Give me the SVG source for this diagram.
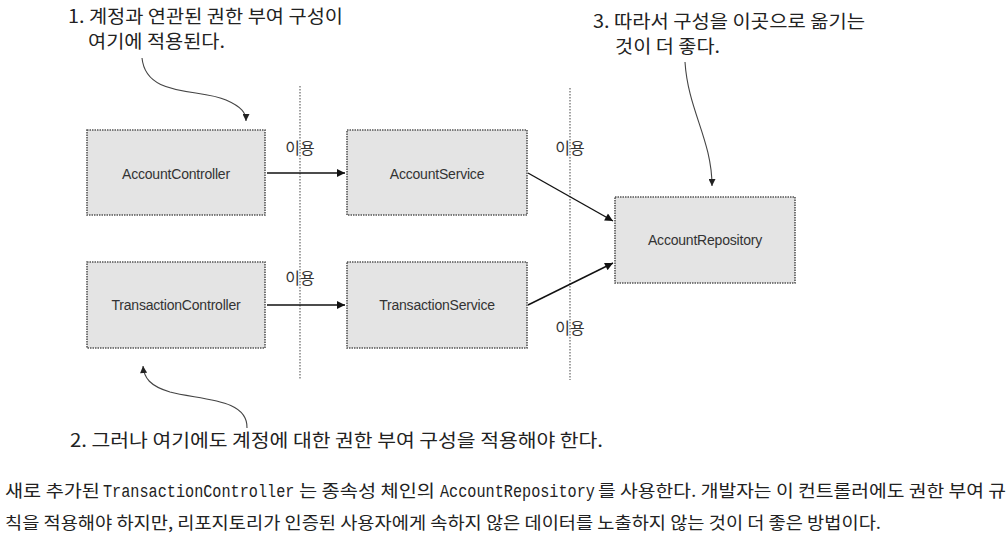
<svg xmlns="http://www.w3.org/2000/svg" width="1007" height="540" viewBox="0 0 1007 540">
<style>
.box{fill:#e4e4e4;stroke:#555;stroke-width:1.6;stroke-dasharray:1.5 1}
.lbl{font-family:"Liberation Sans",Arial,sans-serif;font-size:14px;fill:#333;text-anchor:middle;letter-spacing:-0.2px}
.use{font-family:"Noto Sans CJK KR","Noto Sans",sans-serif;font-size:16px;fill:#333;text-anchor:middle}
.call{font-family:"Noto Sans CJK KR","Noto Sans",sans-serif;font-size:18px;fill:#222}
.para{font-family:"Noto Sans CJK KR","Noto Sans",sans-serif;font-size:17px;fill:#222}
.code{font-family:"Liberation Mono","DejaVu Sans Mono",monospace;font-size:15.2px;fill:#222}
.sep{stroke:#666;stroke-width:1.2;stroke-dasharray:1.5 1.5;fill:none}
.conn{stroke:#111;stroke-width:1.4;fill:none}
.curve{stroke:#444;stroke-width:1.1;fill:none}
</style>
<defs>
<marker id="ah" viewBox="0 0 10 10" refX="10" refY="5" markerUnits="userSpaceOnUse" markerWidth="11" markerHeight="8" orient="auto">
<path d="M0,0 L10,5 L0,10 z" fill="#111"/>
</marker>
<marker id="ahs" viewBox="0 0 10 10" refX="10" refY="5" markerUnits="userSpaceOnUse" markerWidth="8" markerHeight="7" orient="auto">
<path d="M0,0 L10,5 L0,10 z" fill="#222"/>
</marker>
</defs>
<rect width="1007" height="540" fill="#fff"/>

<g id="separators">
<line class="sep" x1="300" y1="86" x2="300" y2="380"/>
<line class="sep" x1="570" y1="88" x2="570" y2="380"/>
</g>

<g id="AccountController"><rect class="box" x="87" y="130" width="178" height="85"/><text class="lbl" x="176" y="179">AccountController</text></g>
<g id="AccountService"><rect class="box" x="347" y="130" width="180" height="85"/><text class="lbl" x="437" y="179">AccountService</text></g>
<g id="TransactionController"><rect class="box" x="87" y="262" width="178" height="86"/><text class="lbl" x="176" y="310">TransactionController</text></g>
<g id="TransactionService"><rect class="box" x="347" y="262" width="180" height="86"/><text class="lbl" x="437" y="310">TransactionService</text></g>
<g id="AccountRepository"><rect class="box" x="615" y="197" width="180" height="86"/><text class="lbl" x="705" y="245">AccountRepository</text></g>

<g id="connectors">
<line class="conn" x1="267" y1="173" x2="345" y2="173" marker-end="url(#ah)"/>
<line class="conn" x1="267" y1="305" x2="345" y2="305" marker-end="url(#ah)"/>
<line class="conn" x1="528" y1="173" x2="613" y2="221" marker-end="url(#ah)"/>
<line class="conn" x1="528" y1="305" x2="613" y2="263" marker-end="url(#ah)"/>
<path class="curve" d="M142,58 C146,98 200,88 226,100 C242,107 246,113 246,121" marker-end="url(#ahs)"/>
<path class="curve" d="M685,62 C688,110 712,140 712,186" marker-end="url(#ahs)"/>
<path class="curve" d="M247,428 C248,398 200,400 170,392 C150,386 144,378 143,366" marker-end="url(#ahs)"/>
</g>

<g id="labels">
<text class="use" x="300" y="154">이용</text>
<text class="use" x="300" y="284">이용</text>
<text class="use" x="570" y="154">이용</text>
<text class="use" x="570" y="334">이용</text>
</g>

<g id="callouts">
<text class="call" x="68" y="23" textLength="275" lengthAdjust="spacingAndGlyphs">1. 계정과 연관된 권한 부여 구성이</text>
<text class="call" x="88" y="48" textLength="137" lengthAdjust="spacingAndGlyphs">여기에 적용된다.</text>
<text class="call" x="593" y="28" textLength="272" lengthAdjust="spacingAndGlyphs">3. 따라서 구성을 이곳으로 옮기는</text>
<text class="call" x="615" y="53" textLength="105" lengthAdjust="spacingAndGlyphs">것이 더 좋다.</text>
<text class="call" x="70" y="447" textLength="533" lengthAdjust="spacingAndGlyphs">2. 그러나 여기에도 계정에 대한 권한 부여 구성을 적용해야 한다.</text>
</g>

<g id="paragraph">
<text class="para" x="5" y="497" textLength="95" lengthAdjust="spacingAndGlyphs">새로 추가된</text>
<text class="code" transform="translate(103,497) scale(1,1.18)" x="0" y="0">TransactionController</text>
<text class="para" x="299" y="497" textLength="136" lengthAdjust="spacingAndGlyphs">는 종속성 체인의</text>
<text class="code" transform="translate(440,497) scale(1,1.18)" x="0" y="0">AccountRepository</text>
<text class="para" x="598" y="497" textLength="408" lengthAdjust="spacingAndGlyphs">를 사용한다. 개발자는 이 컨트롤러에도 권한 부여 규</text>
<text class="para" x="5" y="529" textLength="876" lengthAdjust="spacingAndGlyphs">칙을 적용해야 하지만, 리포지토리가 인증된 사용자에게 속하지 않은 데이터를 노출하지 않는 것이 더 좋은 방법이다.</text>
</g>
</svg>
